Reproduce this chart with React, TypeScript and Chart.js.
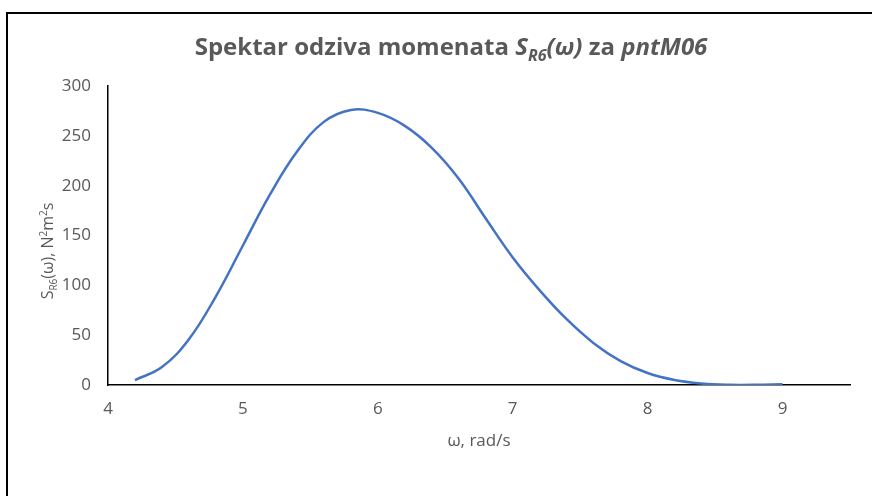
import React, { useEffect, useRef } from "react";
import { Chart, registerables } from "chart.js";

Chart.register(...registerables);

const omega: number[] = [
  4.2, 4.4, 4.6, 4.8, 5.0, 5.2, 5.4, 5.6, 5.8, 6.0, 6.2, 6.4, 6.6, 6.8, 7.0, 7.2, 7.4, 7.6, 7.8, 8.0, 8.2, 8.4, 8.6, 8.8, 9.0,
];
const spectrum: number[] = [
  5, 18, 46, 89, 140, 191, 234, 264, 276, 273, 260, 238, 207, 167, 128, 95, 66, 42, 24, 12, 5, 1.5, 0.2, 0.2, 0.8,
];

const xTicks: number[] = [4, 5, 6, 7, 8, 9];
const yTicks: number[] = [0, 50, 100, 150, 200, 250, 300];

const FONT = "'Open Sans', 'Noto Sans', sans-serif";
const GREY = "#595959";

type Seg = { t: string; italic?: boolean; bold?: boolean; sub?: boolean; sup?: boolean };

const titleSegs: Seg[] = [
  { t: "Spektar odziva momenata ", bold: true },
  { t: "S", bold: true, italic: true },
  { t: "R6", bold: true, italic: true, sub: true },
  { t: "(ω)", bold: true, italic: true },
  { t: " za ", bold: true },
  { t: "pntM06", bold: true, italic: true },
];

const yTitleSegs: Seg[] = [
  { t: "S" },
  { t: "R6", sub: true },
  { t: "(ω), N" },
  { t: "2", sup: true },
  { t: "m" },
  { t: "2", sup: true },
  { t: "s" },
];

const xTitle = "ω, rad/s";

function segFont(s: Seg, size: number) {
  const sz = s.sub || s.sup ? Math.round(size * 0.65) : size;
  return `${s.italic ? "italic " : ""}${s.bold ? "bold " : ""}${sz}px ${FONT}`;
}

function drawRich(ctx: CanvasRenderingContext2D, segs: Seg[], cx: number, cy: number, size: number) {
  let total = 0;
  const widths = segs.map((s) => {
    ctx.font = segFont(s, size);
    const w = ctx.measureText(s.t).width;
    total += w;
    return w;
  });
  let x = cx - total / 2;
  ctx.textBaseline = "alphabetic";
  ctx.textAlign = "left";
  segs.forEach((s, i) => {
    ctx.font = segFont(s, size);
    let dy = 0;
    if (s.sub) dy = size * 0.25;
    if (s.sup) dy = -size * 0.38;
    ctx.fillText(s.t, x, cy + dy);
    x += widths[i];
  });
}

const decorPlugin = {
  id: "decor",
  beforeDraw(chart: any) {
    const ctx = chart.ctx as CanvasRenderingContext2D;
    ctx.save();
    ctx.fillStyle = "#ffffff";
    ctx.fillRect(0, 0, chart.width, chart.height);
    ctx.restore();
  },
  afterDraw(chart: any) {
    const ctx = chart.ctx as CanvasRenderingContext2D;
    const area = chart.chartArea;
    ctx.save();
    // outer frame (top and left only)
    ctx.strokeStyle = "#000000";
    ctx.lineWidth = 2;
    ctx.beginPath();
    ctx.moveTo(chart.width, 13);
    ctx.lineTo(7, 13);
    ctx.lineTo(7, chart.height);
    ctx.stroke();

    ctx.fillStyle = GREY;
    // main title
    drawRich(ctx, titleSegs, 451, 55, 24);
    // x title
    ctx.font = `17px ${FONT}`;
    ctx.textAlign = "center";
    ctx.textBaseline = "middle";
    ctx.fillText(xTitle, (area.left + area.right) / 2, 441);
    // y title rotated
    ctx.translate(48, 251);
    ctx.rotate(-Math.PI / 2);
    drawRich(ctx, yTitleSegs, 0, 5, 16);
    ctx.restore();
  },
};

export default function App() {
  const ref = useRef<HTMLCanvasElement>(null);
  useEffect(() => {
    document.body.style.margin = "0";
    const canvas = ref.current!;
    const chart = new Chart(canvas, {
      type: "line",
      data: {
        datasets: [
          {
            data: omega.map((x, i) => ({ x, y: spectrum[i] })),
            borderColor: "#4472C4",
            borderWidth: 2.5,
            pointRadius: 0,
            fill: false,
            tension: 0.4,
          },
        ],
      },
      options: {
        responsive: false,
        animation: false,
        layout: { padding: { left: 0, top: 86, right: 22, bottom: 0 } },
        plugins: { legend: { display: false }, tooltip: { enabled: false }, title: { display: false } },
        scales: {
          x: {
            type: "linear",
            min: 4,
            max: 9.5,
            afterFit(scale: any) {
              scale.height = 111;
            },
            afterBuildTicks(scale: any) {
              scale.ticks = xTicks.map((v) => ({ value: v }));
            },
            grid: { display: false, drawTicks: false },
            border: { display: true, color: "#000000", width: 1.5 },
            ticks: { color: GREY, font: { family: FONT, size: 17 }, padding: 14, maxRotation: 0 },
          },
          y: {
            type: "linear",
            min: 0,
            max: 300,
            afterFit(scale: any) {
              scale.width = 108;
            },
            afterBuildTicks(scale: any) {
              scale.ticks = yTicks.map((v) => ({ value: v }));
            },
            grid: { display: false, drawTicks: false },
            border: { display: true, color: "#000000", width: 1.5 },
            ticks: { color: GREY, font: { family: FONT, size: 17 }, padding: 17 },
          },
        },
      },
      plugins: [decorPlugin],
    });
    return () => chart.destroy();
  }, []);
  return (
    <div style={{ width: 872, height: 496 }}>
      <canvas ref={ref} width={872} height={496} style={{ display: "block" }} />
    </div>
  );
}
